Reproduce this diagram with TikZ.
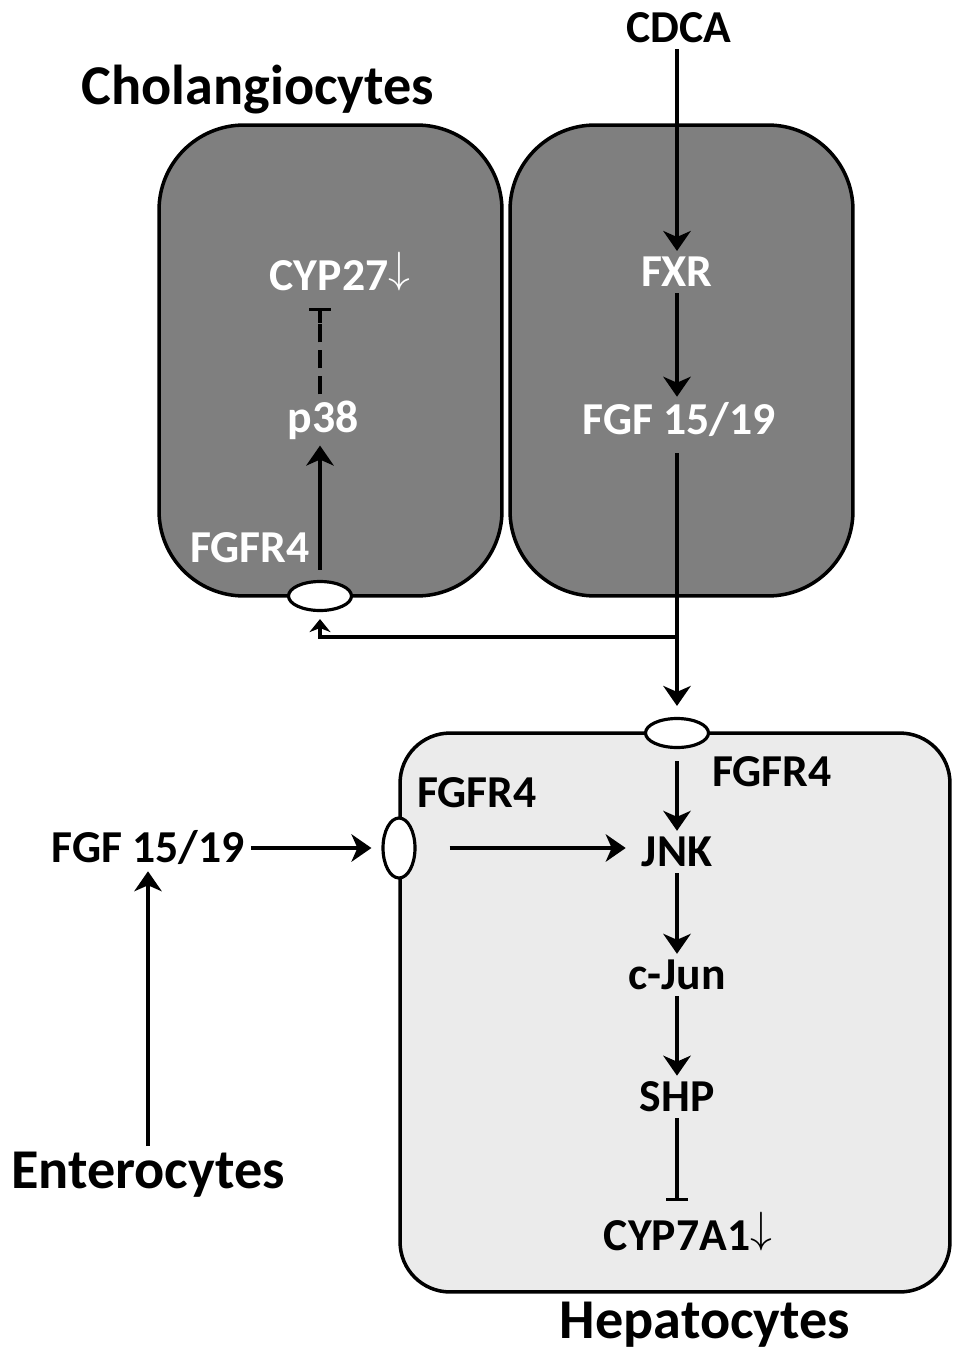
\documentclass[tikz,border=0pt]{standalone}
\usepackage{fontspec}
\setmainfont{Carlito}
\usepackage{xcolor}
\usetikzlibrary{arrows.meta,shapes.geometric,positioning}

\definecolor{cholgray}{RGB}{127,127,127}
\definecolor{hepgray}{RGB}{235,235,235}

\newcommand{\dnarr}{\raisebox{0.16em}{$\downarrow$}}

\begin{document}
\begin{tikzpicture}[
    x=0.02cm, y=-0.02cm,
    cell/.style={draw, line width=2pt, rounded corners=1.7cm, fill=cholgray, minimum width=6.86cm, minimum height=9.42cm},
    hcell/.style={draw, line width=2pt, rounded corners=1cm, fill=hepgray, minimum width=11cm, minimum height=11.18cm},
    rcp/.style={draw, ellipse, fill=white, line width=1.8pt, inner sep=0pt, minimum width=1.26cm, minimum height=0.58cm},
    lbl/.style={font=\fontsize{26pt}{30pt}\selectfont\bfseries},
    wlbl/.style={lbl, text=white},
    big/.style={font=\fontsize{32pt}{36pt}\selectfont\bfseries},
    arr/.style={-{Stealth[length=0.4cm,width=0.55cm,inset=0.12cm]}, line width=1.8pt},
    sarr/.style={-{Stealth[length=0.26cm,width=0.42cm,inset=0.08cm]}, line width=1.8pt},
    inh/.style={-{Bar[width=0.44cm]}, line width=1.8pt}
]
    \useasboundingbox (0,0) rectangle (953,1351);

    % Cholangiocytes
    \node[big] (chol) at (258,90) {Cholangiocytes};
    \node[cell] (cholL) at (330.5,360.5) {};
    \node[cell] (cholR) at (681.5,360.5) {};

    % Hepatocytes
    \node[hcell] (hep) at (675,1012.5) {};
    \node[big] (heplbl) at (705,1325) {Hepatocytes};

    % receptors
    \node[rcp] (rc) at (320,596) {};
    \node[rcp] (rh) at (677,733) {};
    \node[rcp, minimum width=0.64cm, minimum height=1.2cm] (rl) at (399,848) {};

    % labels, upper part
    \node[lbl] (cdca) at (679,28) {CDCA};
    \node[wlbl] (fxr) at (677,272) {FXR};
    \node[wlbl] (fgfc) at (679,420) {FGF 15/19};
    \node[wlbl] (cyp27) at (340,272) {CYP27\dnarr};
    \node[wlbl] (p38) at (323,420) {p38};
    \node[wlbl] (fgfrc) at (250,548) {FGFR4};

    % labels, lower part
    \node[lbl] (fgfrh) at (772,772) {FGFR4};
    \node[lbl] (fgfrl) at (477,793) {FGFR4};
    \node[lbl] (fgfe) at (148,848) {FGF 15/19};
    \node[lbl] (jnk) at (677,852) {JNK};
    \node[lbl] (cjun) at (677,975) {c-Jun};
    \node[lbl] (shp) at (677,1097) {SHP};
    \node[lbl] (cyp7) at (688,1232) {CYP7A1\dnarr};
    \node[big] (ent) at (148,1175) {Enterocytes};

    \coordinate (br) at (677,637);

    % connectors
    \draw[arr] (cdca.south -| fxr) -- (fxr);
    \draw[arr] (fxr) -- (fgfc.north -| fxr);
    \draw[arr, shorten <=0.2cm, shorten >=0.22cm] (fgfc.south -| rh) -- (rh);
    \draw[sarr, shorten >=0.14cm] (br) -- (br -| rc) -- (rc.south);
    \draw[arr, shorten <=0.2cm] (rc) -- (p38.south -| rc);
    % dashed inhibition p38 -> CYP27
    \draw[line width=1.8pt, dash pattern=on 0.36cm off 0.16cm, shorten >=0.5cm] (p38.north -| rc) -- (cyp27.south -| rc);
    \draw[inh, shorten >=0.2cm] ([yshift=-0.5cm]cyp27.south -| rc) -- (cyp27.south -| rc);
    \draw[arr, shorten >=0.2cm] (fgfe) -- (rl);
    \draw[arr, shorten <=0.66cm, shorten >=0.2cm] (rl) -- (rl -| jnk.west);
    \draw[arr, shorten <=0.24cm] (rh) -- (jnk);
    \draw[arr] (jnk) -- (cjun);
    \draw[arr] (cjun) -- (shp);
    \draw[inh, shorten >=0.1cm] (shp) -- (cyp7.north -| shp);
    \draw[arr] (ent.north -| fgfe) -- (fgfe);
\end{tikzpicture}
\end{document}
